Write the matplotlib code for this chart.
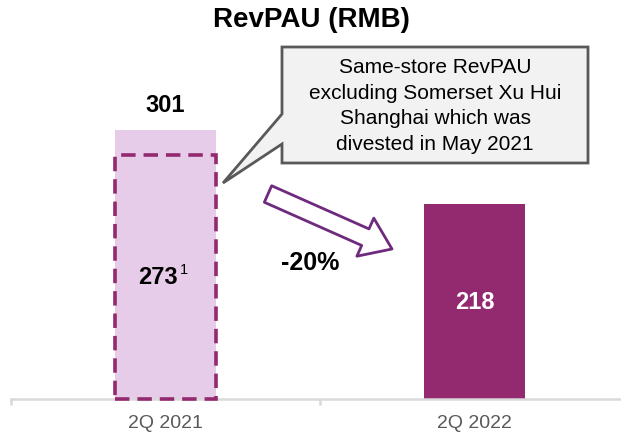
import matplotlib
matplotlib.use("Agg")
import matplotlib.pyplot as plt
from matplotlib.patches import Polygon, FancyArrowPatch, Rectangle, ArrowStyle

plt.rcParams['font.family'] = ['Liberation Sans', 'DejaVu Sans']

categories = ["2Q 2021", "2Q 2022"]
revpau = [301, 218]
same_store = 273  # 2Q 2021 excluding Somerset Xu Hui Shanghai
change_label = "-20%"
note = "Same-store RevPAU\nexcluding Somerset Xu Hui\nShanghai which was\ndivested in May 2021"

light = "#e6cce8"
dark = "#93296f"
W, H = 621, 435


def fx(px):
    return px / W


def fy(py):
    return 1 - py / H


fig = plt.figure(figsize=(6.21, 4.35), dpi=100)
ax = fig.add_axes([fx(11), fy(400), (629 - 11) / W, 0.7605])

x = list(range(len(categories)))
bw = 0.324
ax.bar(x[0], revpau[0], width=bw, color=light, zorder=2)
ax.bar(x[1], revpau[1], width=bw, color=dark, zorder=2)

# dashed same-store outline
ax.add_patch(Rectangle((x[0] - bw / 2, 0), bw, same_store, fill=False,
                       edgecolor=dark, lw=2.6, linestyle=(0, (4, 2.2)),
                       zorder=3, clip_on=False))

ax.set_xlim(-0.5, 1.5)
ax.set_ylim(0, 370)
for s in ["top", "left", "right"]:
    ax.spines[s].set_visible(False)
ax.spines["bottom"].set_color("#d9d9d9")
ax.spines["bottom"].set_linewidth(1.8)
ax.set_yticks([])
ax.set_xticks([-0.5, 0.5, 1.5])
ax.set_xticklabels([])
ax.tick_params(axis="x", which="major", length=4.5, width=1.8, color="#d9d9d9")
ax.set_xticks(x, minor=True)
ax.set_xticklabels(categories, minor=True, fontsize=14, color="#595959")
ax.tick_params(axis="x", which="minor", length=0, pad=11)

# value labels
ax.annotate(str(revpau[0]), (x[0], revpau[0]), xytext=(0, 18.5),
            textcoords="offset points", ha="center", va="center",
            fontsize=17, fontweight="bold", color="black")
ax.text(x[0] - 0.025, same_store / 2, str(same_store), ha="center", va="center",
        fontsize=17, fontweight="bold", color="black", zorder=4)
ax.annotate("1", (x[0] - 0.025, same_store / 2), xytext=(18.5, 6),
            textcoords="offset points", ha="center", va="center",
            fontsize=10.5, color="black", zorder=4)
ax.text(x[1], revpau[1] / 2, str(revpau[1]), ha="center", va="center",
        fontsize=17, fontweight="bold", color="white", zorder=4)

fig.text(fx(311), fy(20), "RevPAU (RMB)", ha="center", va="center",
         fontsize=20, fontweight="bold")

# callout box
pts = [(282, 48), (588, 48), (588, 164), (282, 164), (282, 145), (223, 184), (282, 115)]
fig.patches.append(Polygon([(fx(a), fy(b)) for a, b in pts], closed=True,
                           transform=fig.transFigure, facecolor="#f2f2f2",
                           edgecolor="#595959", lw=2, zorder=5))
fig.text(fx(435), fy(106), note, ha="center", va="center", fontsize=15,
         linespacing=1.45, color="black", zorder=6)

# change arrow
arr = FancyArrowPatch((fx(268), fy(195)), (fx(392), fy(250)),
                      transform=fig.transFigure,
                      arrowstyle=ArrowStyle.Simple(head_length=21, head_width=30, tail_width=13),
                      mutation_scale=1, facecolor="white", edgecolor="#6e2a7c",
                      lw=2, shrinkA=0, shrinkB=0, zorder=5)
fig.patches.append(arr)
fig.text(fx(310), fy(263), change_label, ha="center", va="center",
         fontsize=18, fontweight="bold")

fig.savefig("out.png", dpi=100)
